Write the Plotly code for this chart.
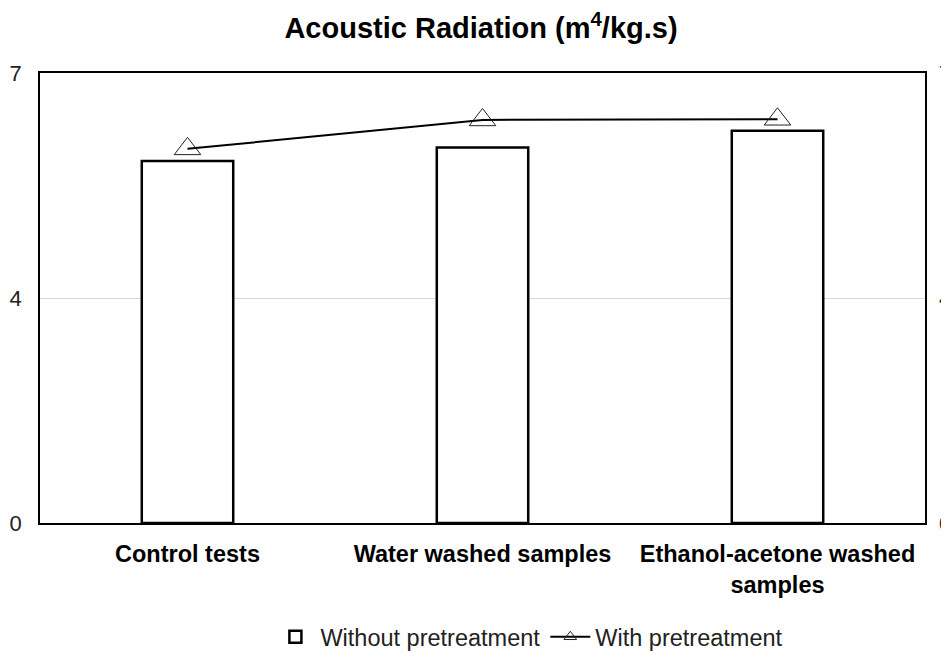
import plotly.graph_objects as go

categories = ["<b>Control tests</b>", "<b>Water washed samples</b>", "<b>Ethanol-acetone washed<br>samples</b>"]
without_pre = [5.63, 5.84, 6.10]
with_pre = [5.82, 6.27, 6.28]
tick_vals = [0, 3.5, 7]
tick_text = ["0", "4", "7"]

FONT = "Liberation Sans, Arial, sans-serif"
W, H = 941, 646  # page body adds an 8px offset

fig = go.Figure()
fig.add_trace(go.Bar(
    x=categories, y=without_pre, name="Without pretreatment",
    marker=dict(color="white", line=dict(color="black", width=2.5)),
    width=0.31,
))
fig.add_trace(go.Scatter(
    x=categories, y=with_pre, name="With pretreatment", mode="lines+markers",
    line=dict(color="black", width=2), showlegend=False,
    marker=dict(symbol="triangle-up-open", size=23, color="#222", line=dict(width=1)),
))
# legend entry with a small triangle, like the reference legend
fig.add_trace(go.Scatter(
    x=[None], y=[None], name="With pretreatment", mode="lines+markers",
    line=dict(color="black", width=2),
    marker=dict(symbol="triangle-up-open", size=11, color="#222", line=dict(width=1)),
))
fig.add_trace(go.Scatter(x=categories, y=with_pre, yaxis="y2", showlegend=False,
                         mode="markers", marker=dict(opacity=0), hoverinfo="skip"))

fig.update_layout(
    width=W, height=H,
    margin=dict(l=32, r=24, t=65, b=131, autoexpand=False),
    paper_bgcolor="white", plot_bgcolor="white",
    font=dict(family=FONT, color="black", size=16),
    title=dict(text="<b>Acoustic Radiation (m<sup>4</sup>/kg.s)</b>", x=(481 - 8) / W, xanchor="center",
               y=1 - 20 / H, yanchor="middle", font=dict(size=29, family=FONT)),
    xaxis=dict(showline=True, linecolor="black", linewidth=1.5, mirror=True, automargin=False,
               tickfont=dict(size=23.5, family=FONT), ticks="", ticklabelstandoff=9),
    yaxis=dict(range=[0, 7], tickvals=tick_vals, ticktext=tick_text, showgrid=True, automargin=False,
               gridcolor="#d9d9d9", gridwidth=1, showline=True, linecolor="black", linewidth=1.5,
               mirror=True, ticks="", tickfont=dict(size=22, family=FONT, color="#222"),
               zeroline=False, ticklabelstandoff=12),
    yaxis2=dict(range=[0, 7], tickvals=tick_vals, ticktext=tick_text, overlaying="y", side="right",
                showgrid=False, ticks="", tickfont=dict(size=22, family=FONT, color="#222"),
                zeroline=False, automargin=False, ticklabelstandoff=13),
    legend=dict(orientation="h", x=0.553, xanchor="center", y=-114 / 450, yanchor="middle",
                font=dict(size=23.5, family=FONT, color="#222"), itemwidth=40, tracegroupgap=0),
    showlegend=True,
)

fig.write_html("out.html")
